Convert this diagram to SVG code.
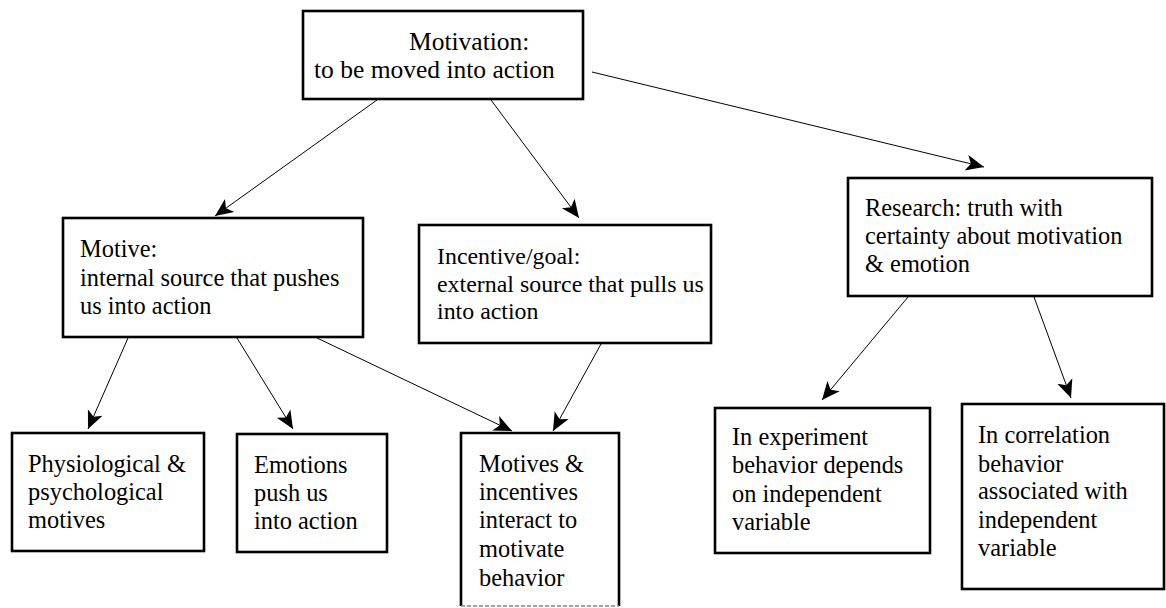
<svg xmlns="http://www.w3.org/2000/svg" width="1166" height="608" viewBox="0 0 1166 608">
<style>
.box{fill:#fff;stroke:#000;stroke-width:2.6}
.t{font-size:24.4px;fill:#000}
.sm{font-size:23.9px}
.big{font-size:25.5px}
.c{stroke:#000;stroke-width:1;fill:none;marker-end:url(#ah)}
</style>
<defs>
<marker id="ah" markerUnits="userSpaceOnUse" viewBox="0 -9 19 18" refX="18" refY="0" markerWidth="19" markerHeight="18" orient="auto">
<path d="M0,-8 L18,0 L0,8 L4.5,0 Z" fill="#000"/>
</marker>
</defs>
<rect width="1166" height="608" fill="#fff"/>
<g id="connectors">
<line class="c" x1="377" y1="100" x2="215" y2="216"/>
<line class="c" x1="491" y1="100" x2="579" y2="218"/>
<line class="c" x1="592" y1="72" x2="984" y2="167"/>
<line class="c" x1="128" y1="338" x2="88" y2="429"/>
<line class="c" x1="237" y1="338" x2="293" y2="429"/>
<line class="c" x1="317" y1="338" x2="512" y2="431"/>
<line class="c" x1="601" y1="344" x2="553" y2="431"/>
<line class="c" x1="908" y1="297" x2="822" y2="400"/>
<line class="c" x1="1034" y1="297" x2="1071" y2="398"/>
</g>
<g id="motivation" font-family="Liberation Serif, serif">
<rect class="box" x="303" y="11" width="280" height="88"/>
<text class="t big" x="409" y="50">Motivation:</text>
<text class="t big" x="314" y="78">to be moved into action</text>
</g>
<g id="motive" font-family="Liberation Serif, serif">
<rect class="box" x="63" y="218" width="300" height="119"/>
<text class="t" x="80" y="257">Motive:</text>
<text class="t" x="80" y="286">internal source that pushes</text>
<text class="t" x="80" y="314">us into action</text>
</g>
<g id="incentive" font-family="Liberation Serif, serif">
<rect class="box" x="419" y="225" width="292" height="118"/>
<text class="t sm" x="437" y="264">Incentive/goal:</text>
<text class="t sm" x="437" y="292">external source that pulls us</text>
<text class="t sm" x="437" y="319">into action</text>
</g>
<g id="research" font-family="Liberation Serif, serif">
<rect class="box" x="848" y="178" width="304" height="118"/>
<text class="t" x="865" y="216">Research: truth with</text>
<text class="t" x="865" y="244">certainty about motivation</text>
<text class="t" x="865" y="272">&amp; emotion</text>
</g>
<g id="physiological" font-family="Liberation Serif, serif">
<rect class="box" x="12" y="433" width="192" height="118"/>
<text class="t" x="28" y="472">Physiological &amp;</text>
<text class="t" x="28" y="500">psychological</text>
<text class="t" x="28" y="528">motives</text>
</g>
<g id="emotions" font-family="Liberation Serif, serif">
<rect class="box" x="237" y="434" width="150" height="118"/>
<text class="t" x="254" y="473">Emotions</text>
<text class="t" x="254" y="501">push us</text>
<text class="t" x="254" y="529">into action</text>
</g>
<g id="interact" font-family="Liberation Serif, serif">
<path d="M461,606 L461,433 L619,433 L619,606" fill="#fff" stroke="#000" stroke-width="2.6"/>
<line x1="461" y1="606" x2="619" y2="606" stroke="#888" stroke-width="1.5" stroke-dasharray="4 2"/>
<text class="t" x="479" y="472">Motives &amp;</text>
<text class="t" x="479" y="500">incentives</text>
<text class="t" x="479" y="528">interact to</text>
<text class="t" x="479" y="557">motivate</text>
<text class="t" x="479" y="586">behavior</text>
</g>
<g id="experiment" font-family="Liberation Serif, serif">
<rect class="box" x="715" y="408" width="215" height="145"/>
<text class="t" x="732" y="445">In experiment</text>
<text class="t" x="732" y="473">behavior depends</text>
<text class="t" x="732" y="502">on independent</text>
<text class="t" x="732" y="530">variable</text>
</g>
<g id="correlation" font-family="Liberation Serif, serif">
<rect class="box" x="962" y="404" width="202" height="185"/>
<text class="t" x="978" y="443">In correlation</text>
<text class="t" x="978" y="472">behavior</text>
<text class="t" x="978" y="499">associated with</text>
<text class="t" x="978" y="528">independent</text>
<text class="t" x="978" y="556">variable</text>
</g>
</svg>
